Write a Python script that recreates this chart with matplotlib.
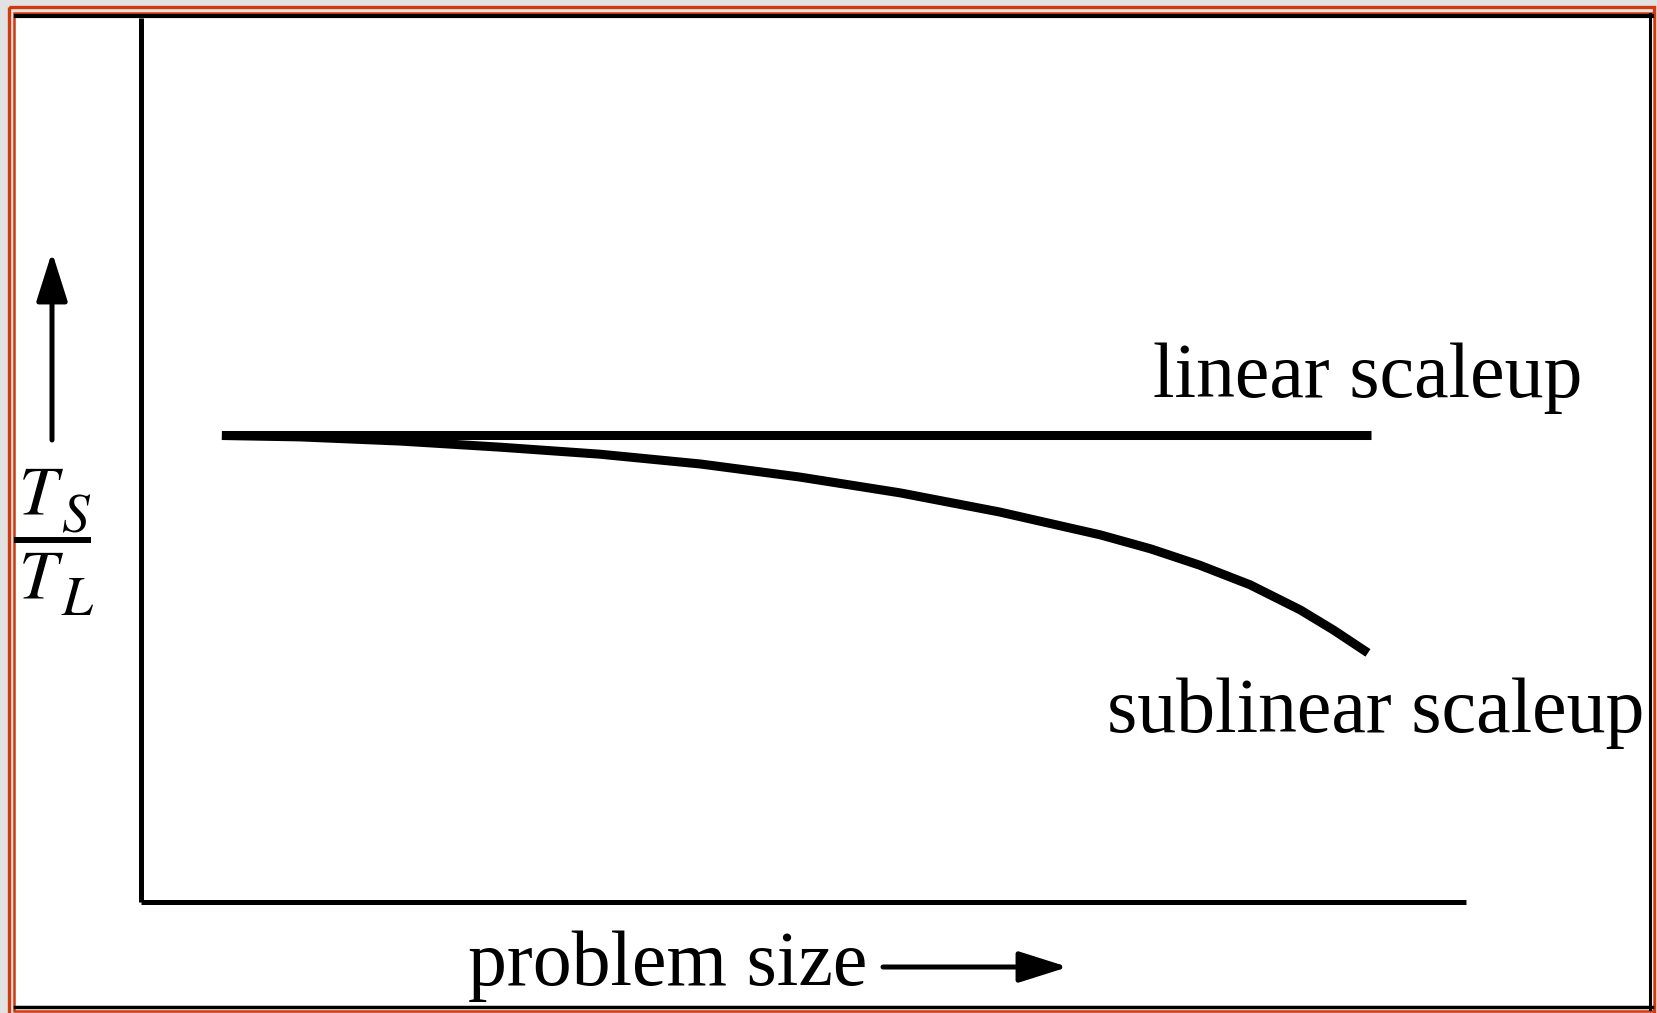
import numpy as np
import matplotlib
matplotlib.use("Agg")
import matplotlib.pyplot as plt
from matplotlib.transforms import Affine2D
from matplotlib.patches import Rectangle, FancyArrowPatch
from matplotlib.lines import Line2D

plt.rcParams['font.family'] = ['Liberation Serif', 'DejaVu Serif']
plt.rcParams['mathtext.fontset'] = 'stix'

W, H = 1658, 1013

# problem size (arbitrary units) and T_S / T_L ratio
size_linear = [6.1, 92.8]
ratio_linear = [1.0, 1.0]
size_sub = [6.1, 12.0, 19.6, 27.1, 34.6, 42.2, 49.7, 57.3, 64.8, 72.4,
            76.2, 79.9, 83.7, 87.5, 90.0, 92.6]
ratio_sub = [1.0, 0.997, 0.988, 0.975, 0.960, 0.939, 0.911, 0.877, 0.836, 0.787,
             0.757, 0.722, 0.680, 0.626, 0.583, 0.534]

fig = plt.figure(figsize=(W / 100, H / 100), dpi=100)
fig.patch.set_facecolor('#e2e2e2')

# pixel coords, origin top-left
px = Affine2D().scale(1 / W, -1 / H).translate(0, 1) + fig.transFigure

red = '#d03a0c'
fig.add_artist(Rectangle((9.5, 7.5), 1645, 1010, transform=px, fill=False,
                         edgecolor=red, linewidth=2.4, zorder=-2))
fig.add_artist(Rectangle((14, 13), 1640, 998, transform=px, facecolor='white',
                         edgecolor=red, linewidth=1.8, zorder=-2))
for xs, ys, lw in [([16, 1652], [16, 16], 3.0),
                   ([1650.5, 1650.5], [14, 1009], 2.2),
                   ([15, 1652], [1007.5, 1007.5], 2.5)]:
    fig.add_artist(Line2D(xs, ys, transform=px, color='black', linewidth=lw, zorder=-1))

ax = fig.add_axes([141 / W, (H - 902) / H, 1325 / W, 884 / H])
ax.set_zorder(2)
ax.set_facecolor('none')
ax.set_xlim(0, 100)
ax.set_ylim(0, 884 / 466.5)
for s in ['top', 'right']:
    ax.spines[s].set_visible(False)
for s in ['left', 'bottom']:
    ax.spines[s].set_linewidth(3.6)
    ax.spines[s].set_capstyle('butt')
ax.set_xticks([])
ax.set_yticks([])

ax.plot(size_linear, ratio_linear, color='black', lw=6.5, solid_capstyle='butt')
ax.plot(size_sub, ratio_sub, color='black', lw=6.5, solid_capstyle='butt',
        solid_joinstyle='round')

fig.text(1153, 397, 'linear scaleup', transform=px, fontsize=56,
         ha='left', va='baseline')
fig.text(1107, 732, 'sublinear scaleup', transform=px, fontsize=56,
         ha='left', va='baseline')
fig.text(468, 985, 'problem size', transform=px, fontsize=56,
         ha='left', va='baseline')

# T_S / T_L fraction
fig.text(18, 513, r'$T$', transform=px, fontsize=50, ha='left', va='baseline')
fig.text(61, 532, r'$S$', transform=px, fontsize=40, ha='left', va='baseline')
fig.text(18, 597, r'$T$', transform=px, fontsize=50, ha='left', va='baseline')
fig.text(61, 615, r'$L$', transform=px, fontsize=40, ha='left', va='baseline')
fig.add_artist(Line2D([17, 88], [540, 540], transform=px, color='black', linewidth=4.3))

style = '-|>,head_length=3.0,head_width=0.95'
fig.add_artist(FancyArrowPatch((52, 440), (52, 252), transform=px, arrowstyle=style,
                               mutation_scale=10, color='black', lw=3.6,
                               shrinkA=0, shrinkB=0))
fig.add_artist(FancyArrowPatch((883, 967), (1068, 967), transform=px, arrowstyle=style,
                               mutation_scale=10, color='black', lw=3.6,
                               shrinkA=0, shrinkB=0))

fig.savefig('out.png', dpi=100, facecolor=fig.get_facecolor())
